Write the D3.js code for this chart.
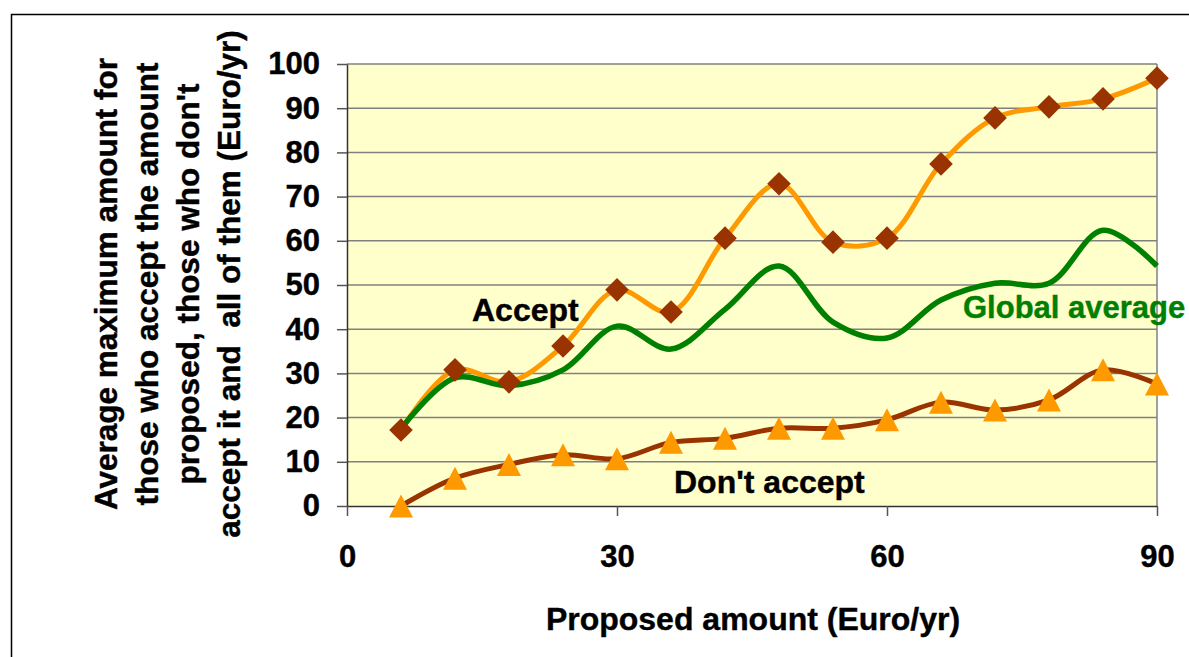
<!DOCTYPE html>
<html>
<head>
<meta charset="utf-8">
<script src="https://cdn.jsdelivr.net/npm/d3@7"></script>
<style>
  html, body { margin: 0; padding: 0; background: #fff; }
  svg { display: block; }
  text { font-family: "Liberation Sans", Arial, sans-serif; font-weight: bold; }
</style>
</head>
<body>
<svg id="chart" width="1189" height="657"></svg>
<script>
// ---- Data ----
const proposed = [6, 12, 18, 24, 30, 36, 42, 48, 54, 60, 66, 72, 78, 84, 90];
const accept = [17.2, 30.8, 28.1, 36.2, 48.9, 43.9, 60.6, 72.9, 59.7, 60.6, 77.4, 87.8, 90.3, 92.1, 96.8];
const dontAccept = [0, 6.3, 9.4, 11.6, 10.7, 14.4, 15.3, 17.6, 17.6, 19.5, 23.5, 21.7, 24.0, 30.8, 27.6];
const globalAverage = [17.5, 29.0, 27.2, 30.8, 40.7, 35.5, 44.5, 54.3, 41.6, 38.0, 46.6, 50.4, 50.4, 62.4, 54.3];
const xTicks = [0, 30, 60, 90];
const yTicks = [0, 10, 20, 30, 40, 50, 60, 70, 80, 90, 100];
const yTitleLines = ["Average maximum amount for", "those who accept the amount", "proposed, those who don't", "accept it and  all of them (Euro/yr)"];
const xTitle = "Proposed amount (Euro/yr)";
const seriesLabels = ["Accept", "Don't accept", "Global average"];

// ---- Layout ----
const svg = d3.select("#chart");
const L = 347, R = 1157, T = 64, B = 506;
const x = d3.scaleLinear().domain([0, 90]).range([L, R]);
const y = d3.scaleLinear().domain([0, 100]).range([B, T]);

const ORANGE = "#FF9900", BROWN = "#993300", GREEN = "#008000";

// outer border
svg.append("rect").attr("x", 11.5).attr("y", 14.5).attr("width", 1300).attr("height", 800)
  .attr("fill", "none").attr("stroke", "#000").attr("stroke-width", 1.5);

// plot background
svg.append("rect").attr("x", L).attr("y", T).attr("width", R - L).attr("height", B - T)
  .attr("fill", "#FFFFCC");

// gridlines
svg.append("g").selectAll("line").data(yTicks.filter(d => d > 0)).join("line")
  .attr("x1", L).attr("x2", R).attr("y1", d => y(d)).attr("y2", d => y(d))
  .attr("stroke", "#808080").attr("stroke-width", 1.5);

// right border of plot
svg.append("line").attr("x1", R).attr("x2", R).attr("y1", T).attr("y2", B)
  .attr("stroke", "#808080").attr("stroke-width", 1.5);

// axes
const yAxis = svg.append("g").attr("transform", `translate(${L},0)`)
  .call(d3.axisLeft(y).tickValues(yTicks).tickSize(10).tickPadding(17).tickSizeOuter(0));
const xAxis = svg.append("g").attr("transform", `translate(0,${B})`)
  .call(d3.axisBottom(x).tickValues(xTicks).tickSize(10).tickPadding(29).tickSizeOuter(0));
[yAxis, xAxis].forEach(g => {
  g.select(".domain").attr("stroke", "#333").attr("stroke-width", 1.5);
  g.selectAll(".tick line").attr("stroke", "#555").attr("stroke-width", 1.5);
  g.selectAll(".tick text").attr("font-size", 31).attr("fill", "#000")
    .attr("stroke", "#000").attr("stroke-width", 0.4)
    .attr("font-family", "'Liberation Sans', Arial, sans-serif").attr("font-weight", "bold");
});

// lines
const curve = d3.curveCatmullRom;
function drawLine(vals, color, w) {
  const line = d3.line().x((d, i) => x(proposed[i])).y(d => y(d)).curve(curve);
  svg.append("path").datum(vals).attr("d", line).attr("fill", "none")
    .attr("stroke", color).attr("stroke-width", w).attr("stroke-linejoin", "round");
}
drawLine(accept, ORANGE, 5);
drawLine(dontAccept, BROWN, 5);
drawLine(globalAverage, GREEN, 5.5);

// markers
svg.append("g").selectAll("path").data(accept).join("path")
  .attr("d", d3.symbol().type(d3.symbolSquare).size(280))
  .attr("transform", (d, i) => `translate(${x(proposed[i])},${y(d)}) rotate(45)`)
  .attr("fill", BROWN);
svg.append("g").selectAll("path").data(dontAccept).join("path")
  .attr("d", "M0,-11.5L12,11.5L-12,11.5Z")
  .attr("transform", (d, i) => `translate(${x(proposed[i])},${y(d)})`)
  .attr("fill", ORANGE);

// series labels
function label(xp, yp, t, color, fs) {
  svg.append("text").attr("x", xp).attr("y", yp).attr("font-size", fs)
    .attr("fill", color).attr("stroke", color).attr("stroke-width", 0.4).text(t);
}
label(472, 321, seriesLabels[0], "#000", 32);
label(674, 493, seriesLabels[1], "#000", 32);
label(963, 318, seriesLabels[2], GREEN, 31);

// x title
svg.append("text").attr("x", 753).attr("y", 630).attr("text-anchor", "middle")
  .attr("font-size", 32).attr("fill", "#000").attr("stroke", "#000").attr("stroke-width", 0.4).text(xTitle);

// y title
const yt = svg.append("g").attr("transform", "translate(0,284) rotate(-90)");
yTitleLines.forEach((t, i) => {
  yt.append("text").attr("x", 0).attr("y", 117 + i * 41).attr("text-anchor", "middle")
    .attr("font-size", 31.5).attr("fill", "#000").attr("stroke", "#000").attr("stroke-width", 0.4)
    .style("white-space", "pre").text(t);
});
</script>
</body>
</html>
